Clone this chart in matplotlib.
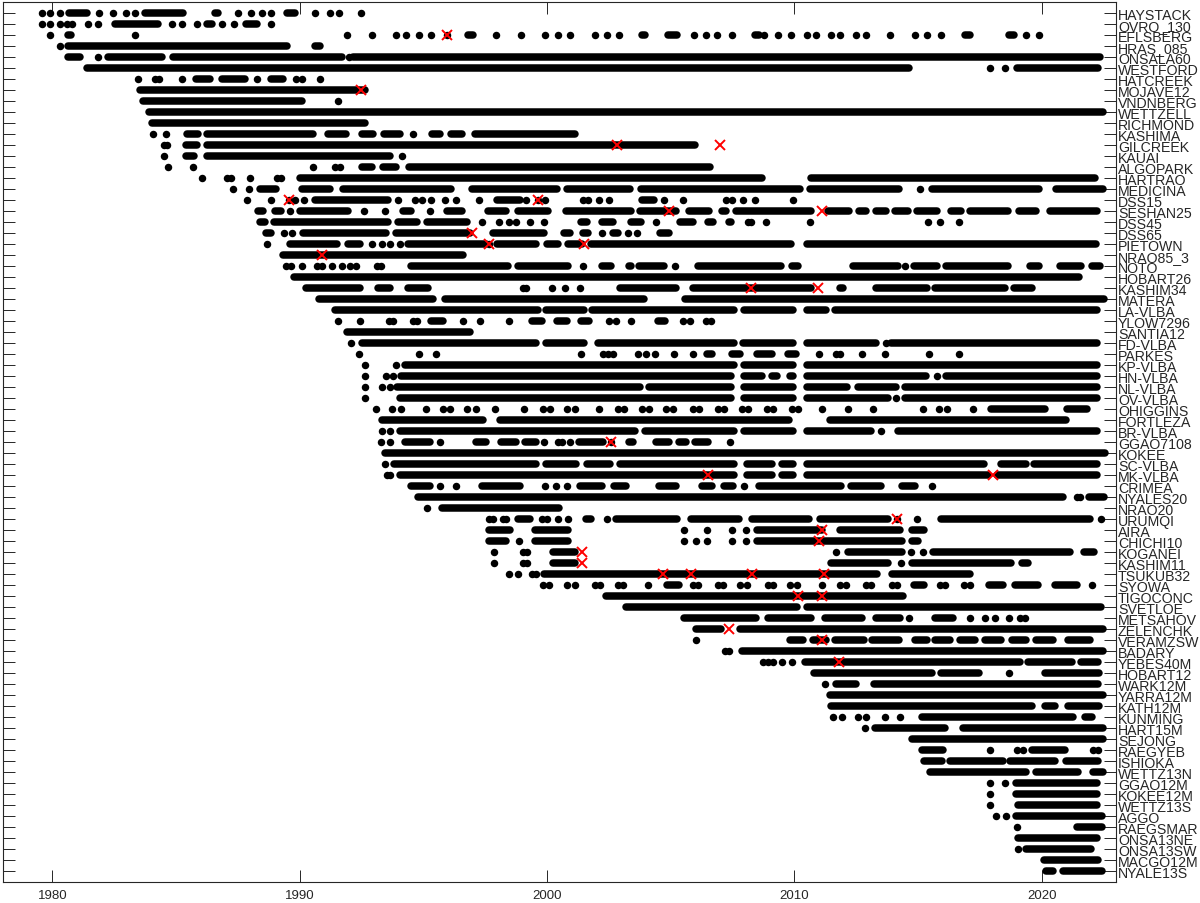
import matplotlib
matplotlib.use("Agg")
import matplotlib.pyplot as plt
from matplotlib.collections import LineCollection

# station names, top to bottom
stations = [
    "HAYSTACK", "OVRO_130", "EFLSBERG", "HRAS_085", "ONSALA60", "WESTFORD",
    "HATCREEK", "MOJAVE12", "VNDNBERG", "WETTZELL", "RICHMOND", "KASHIMA",
    "GILCREEK", "KAUAI", "ALGOPARK", "HARTRAO", "MEDICINA", "DSS15",
    "SESHAN25", "DSS45", "DSS65", "PIETOWN", "NRAO85_3", "NOTO", "HOBART26",
    "KASHIM34", "MATERA", "LA-VLBA", "YLOW7296", "SANTIA12", "FD-VLBA",
    "PARKES", "KP-VLBA", "HN-VLBA", "NL-VLBA", "OV-VLBA", "OHIGGINS",
    "FORTLEZA", "BR-VLBA", "GGAO7108", "KOKEE", "SC-VLBA", "MK-VLBA",
    "CRIMEA", "NYALES20", "NRAO20", "URUMQI", "AIRA", "CHICHI10", "KOGANEI",
    "KASHIM11", "TSUKUB32", "SYOWA", "TIGOCONC", "SVETLOE", "METSAHOV",
    "ZELENCHK", "VERAMZSW", "BADARY", "YEBES40M", "HOBART12", "WARK12M",
    "YARRA12M", "KATH12M", "KUNMING", "HART15M", "SEJONG", "RAEGYEB",
    "ISHIOKA", "WETTZ13N", "GGAO12M", "KOKEE12M", "WETTZ13S", "AGGO",
    "RAEGSMAR", "ONSA13NE", "ONSA13SW", "MACGO12M", "NYALE13S",
]

# sessions per station: a number is a single session, a tuple is a dense run
runs = [
    [1979.59, 1979.92, 1980.30, (1980.69, 1981.42), 1981.89, 1982.47, 1982.97, 1983.34,
     (1983.74, 1985.28), (1986.58, 1986.71), 1987.49, 1988.02, 1988.48, 1988.86,
     (1989.47, 1989.80), 1990.63, 1991.23, 1991.60, 1992.48],
    [1979.59, 1979.92, 1980.30, 1980.59, 1980.79, 1981.46, 1981.84, (1982.54, 1984.28),
     1984.82, 1985.24, 1985.84, (1986.25, 1986.45), 1986.85, 1987.36, (1987.83, 1988.26),
     1988.86],
    [1979.90, (1980.63, 1980.77), 1983.34, 1991.90, 1992.91, 1993.91, 1994.31, 1994.81,
     1995.30, 1995.94, (1996.82, 1996.99), 1997.93, 1998.96, 1999.94, 2000.43, 2000.94,
     2001.93, 2002.44, 2002.91, (2003.85, 2003.98), (2004.90, 2005.24), 2005.95, 2006.42,
     2006.88, 2007.49, (2008.43, 2008.59), 2008.79, 2009.33, 2009.86, 2010.51, 2010.89,
     2011.49, 2011.83, 2012.50, 2012.88, 2013.88, 2014.89, 2015.35, 2015.95,
     (2016.89, 2017.09), (2018.70, 2018.90), 2019.37, 2019.88],
    [1980.30, (1980.65, 1989.47), (1990.63, 1990.83)],
    [(1980.63, 1981.13), 1981.84, (1982.27, 1984.42), (1984.88, 1991.70), 1992.01,
     (1992.17, 2022.34)],
    [(1981.42, 2014.62), 2017.92, 2018.50, (2019.00, 2022.26)],
    [1983.45, 1984.15, 1984.32, 1985.24, (1985.82, 1986.38), (1986.85, 1987.79), 1988.26,
     (1988.86, 1989.33), 1989.87, 1990.09, 1990.83],
    [(1983.54, 1992.64)],
    [(1983.68, 1990.09), 1991.56],
    [(1983.92, 2022.48)],
    [(1984.04, 1992.64)],
    [1984.08, 1984.59, (1985.44, 1985.91), (1986.25, 1990.56), (1991.15, 1991.87),
     (1992.53, 1992.97), (1993.40, 1994.04), 1994.58, (1995.34, 1995.67),
     (1996.12, 1996.55), (1997.08, 2001.13)],
    [1984.51, 1984.64, (1985.41, 1985.84), (1986.25, 2005.98)],
    [1984.52, (1985.40, 1985.74), (1986.25, 1993.64), 1994.15],
    [1984.66, 1985.68, 1990.56, 1991.43, 1991.63, (1992.54, 1992.91), (1993.38, 1993.91),
     (1994.41, 2006.58)],
    [1986.05, 1987.05, 1987.21, 1987.99, 1989.10, 1989.26, (1990.02, 2008.68),
     (2010.69, 2022.14)],
    [1987.32, 1987.96, (1988.39, 1989.06), (1990.09, 1991.23), (1991.74, 1996.14),
     (1996.95, 2000.39), (2000.83, 2003.34), (2003.81, 2010.22), (2010.62, 2014.24),
     2015.08, (2015.55, 2019.88), (2020.60, 2022.48)],
    [1987.86, 1988.86, 1989.56, 1989.80, 1990.16, (1990.63, 1993.58), 1993.98, 1994.67,
     1994.94, 1995.30, 1995.88, 1996.32, 1997.26, (1997.96, 1998.89), 1999.16, 1999.63,
     1999.94, 2001.44, 2001.66, 2002.09, 2002.51, (2003.85, 2004.32), 2004.75, 2005.48,
     2007.25, 2007.49, 2007.92, 2008.43, 2009.93],
    [(1988.30, 1988.53), (1989.00, 1989.26), 1989.60, (1990.02, 1991.97), 1992.60, 1993.44,
     (1994.18, 1994.51), 1995.27, (1995.94, 1996.55), (1997.62, 1998.36), (1998.83, 2000.03),
     (2000.76, 2003.41), (2003.77, 2005.22), (2005.76, 2006.56), (2007.09, 2007.25),
     (2007.65, 2010.69), (2011.36, 2012.23), (2012.63, 2012.90), (2013.30, 2013.71),
     (2014.08, 2014.58), (2014.95, 2015.75), (2016.35, 2016.76), (2017.12, 2018.63),
     (2019.10, 2019.77), (2020.33, 2022.23)],
    [(1988.39, 1988.59), (1988.96, 1993.58), (1993.96, 1994.74), (1995.14, 1996.75),
     1997.38, 1998.06, 1998.46, 1998.73, 1999.30, 1999.86, (2001.37, 2001.60),
     (2002.24, 2002.67), (2003.41, 2003.81), 2004.39, (2005.37, 2005.91),
     (2006.51, 2006.71), (2007.38, 2007.45), 2008.12, 2008.26, 2008.86, 2010.62,
     2015.39, 2015.88, 2016.66],
    [(1988.66, 1988.86), 1989.36, 1989.71, (1990.13, 1993.51), (1993.91, 1996.88),
     (1997.82, 1999.90), (2000.70, 2000.93), (2001.46, 2001.66), 2002.24,
     (2002.67, 2002.87), 2003.27, 2003.64, (2004.59, 2004.95)],
    [1988.70, (1989.60, 1991.50), (1991.97, 1992.44), 1992.91, 1993.33, 1993.64, 1994.07,
     (1994.40, 1997.53), 1997.66, (1997.96, 1999.56), (1999.99, 2000.46),
     (2000.86, 2001.40), (2001.80, 2009.86), (2010.51, 2022.21)],
    [(1989.31, 1996.62)],
    [1989.44, 1989.67, 1990.09, 1990.72, 1990.89, 1991.30, 1991.70, 1992.03, 1992.28,
     1993.13, 1993.31, (1994.51, 1998.42), (1998.83, 2000.86), 2001.44, (2002.24, 2002.58),
     (2003.31, 2003.41), (2003.74, 2004.75), 2005.17, (2006.11, 2009.46),
     (2009.90, 2010.15), (2012.37, 2014.18), 2014.49, (2014.85, 2015.75),
     (2016.15, 2018.63), (2019.53, 2019.88), (2020.73, 2021.60), (2022.05, 2022.37)],
    [(1989.76, 2021.52)],
    [(1990.25, 1992.44), (1993.17, 1993.64), (1994.38, 1995.21), 1999.03, 1999.16,
     2000.19, 2000.72, 2001.33, (2002.94, 2005.22), (2005.91, 2010.69),
     (2011.83, 2011.96), (2013.30, 2015.35), (2015.68, 2018.50), (2018.90, 2019.61)],
    [(1990.80, 1995.40), (1995.87, 2003.94), (2005.57, 2022.54)],
    [(1991.43, 1999.63), (1999.97, 2001.51), (2001.82, 2007.56), (2007.95, 2009.93),
     (2010.51, 2011.27), (2011.65, 2022.22)],
    [1991.54, 1992.43, 1993.61, 1993.77, 1994.58, 1994.75, (1995.31, 1995.81), 1996.59,
     1997.31, 1998.46, (1999.40, 1999.80), (2000.39, 2000.82), (2001.39, 2001.70),
     2002.51, 2002.78, 2003.41, (2004.48, 2004.76), 2005.52, 2005.80, 2006.41, 2006.62],
    [(1991.92, 1996.88)],
    [1992.07, (1992.53, 1999.56), (1999.97, 2001.51), (2002.07, 2007.56),
     (2007.94, 2009.93), (2010.51, 2013.29), 2013.71, (2013.92, 2022.22)],
    [1992.39, 1994.81, 1995.50, 2001.39, 2002.27, 2002.47, 2002.67, 2003.67, 2004.00,
     2004.35, 2005.15, 2005.89, (2006.49, 2006.66), (2007.49, 2007.81), (2008.50, 2009.10),
     (2009.75, 2010.07), 2011.00, 2011.67, 2011.86, 2012.75, 2013.68, 2015.44, 2016.67],
    [1992.66, 1993.91, (1994.24, 2007.56), (2007.95, 2009.93), (2010.51, 2022.22)],
    [1992.66, 1993.51, 1993.77, (1994.11, 2007.43), (2007.95, 2008.68), (2009.10, 2009.31),
     (2009.82, 2009.93), (2010.51, 2015.34), 2015.76, (2016.15, 2022.22)],
    [1992.66, 1993.35, 1993.64, (1993.94, 2003.77), (2004.14, 2007.43), (2007.95, 2009.93),
     (2010.51, 2012.14), (2012.56, 2014.13), (2014.48, 2022.22)],
    [1992.66, (1994.07, 2007.43), (2007.95, 2009.93), (2010.51, 2013.78), 2014.13,
     (2014.48, 2022.22)],
    [1993.07, 1993.75, 1994.11, 1995.12, 1995.78, 1996.08, 1996.77, 1997.12, 1997.89,
     1999.09, 1999.83, 2000.12, 2000.79, 2001.13, 2002.11, 2002.87, 2003.10, 2003.85,
     2004.14, 2004.81, 2005.10, 2005.89, 2006.13, 2006.91, 2007.15, 2007.88, 2008.12,
     2008.89, 2009.14, 2009.89, 2010.13, 2011.14, 2012.18, 2013.18, 2015.21, 2015.87,
     2016.18, 2017.22, (2017.96, 2020.15), (2021.01, 2021.84)],
    [(1993.35, 1997.42), (1998.11, 2009.79), (2011.44, 2020.98)],
    [1993.35, 1993.64, (1994.04, 2003.54), (2003.98, 2007.56), (2007.95, 2009.93),
     (2010.51, 2013.09), 2013.50, (2014.20, 2022.22)],
    [1993.31, 1993.64, (1994.24, 1995.27), 1995.67, (1997.12, 1997.55), (1998.15, 1998.76),
     (1999.13, 1999.56), 1999.90, 2000.45, 2000.59, 2000.92, (2001.30, 2002.27), 2002.60,
     (2003.31, 2003.47), (2004.39, 2004.94), (2005.34, 2005.61), (2006.00, 2006.52),
     2007.40],
    [(1993.47, 2022.58)],
    [1993.47, (1993.80, 1999.56), (1999.97, 2001.19), (2001.60, 2002.56),
     (2002.96, 2007.56), (2008.09, 2009.10), (2009.51, 2009.93), (2010.51, 2017.68),
     (2018.34, 2019.36), (2019.69, 2022.22)],
    [1993.53, 1993.67, (1994.04, 2007.56), (2008.09, 2009.10), (2009.51, 2009.93),
     (2010.51, 2017.85), (2018.20, 2022.22)],
    [(1994.51, 1995.27), 1995.67, 1996.32, (1997.39, 1998.92), 1999.94, 2000.36, 2000.79,
     (2001.35, 2002.24), (2002.70, 2003.21), (2004.52, 2005.20), (2006.27, 2006.66),
     (2007.17, 2007.52), 2007.98, (2008.58, 2011.90), (2012.29, 2013.50),
     (2014.34, 2014.90), 2015.58],
    [(1994.80, 2020.87), 2021.42, 2021.56, (2021.91, 2022.54)],
    [1995.14, (1995.77, 2000.50)],
    [1997.66, 1997.82, 1998.22, 1998.36, (1998.83, 1999.30), 1999.80, 1999.99, 2000.43,
     2000.86, (2001.57, 2001.80), 2002.43, (2002.80, 2005.27), (2005.82, 2007.77),
     (2008.30, 2010.58), (2011.02, 2013.78), 2014.16, 2014.97, (2015.94, 2021.94), 2022.40],
    [(1997.66, 1998.49), (1999.50, 2000.86), 2005.54, 2006.49, 2007.49, 2008.05,
     (2008.50, 2011.14), (2011.83, 2014.27), (2014.76, 2015.24)],
    [(1997.66, 1998.36), 1998.87, (1999.50, 2000.86), 2005.54, 2006.03, 2006.49, 2007.49,
     2008.05, (2008.50, 2014.34), (2014.76, 2015.00)],
    [1997.85, 1999.05, 1999.19, (2000.23, 2001.13), 2011.69, (2012.18, 2014.34), 2014.73,
     2015.20, (2015.59, 2021.14), (2021.70, 2022.12)],
    [1997.85, 1999.05, 1999.19, (2000.23, 2001.13), (2011.48, 2013.78), 2014.31,
     (2014.76, 2018.76), (2019.22, 2019.45)],
    [1998.46, 1998.83, 1999.40, 1999.56, (1999.86, 2013.36), (2013.95, 2017.09)],
    [1999.83, 2000.09, 2000.79, 2001.13, 2001.93, 2002.13, 2002.87, 2003.07, 2004.10,
     (2004.86, 2005.33), 2005.89, 2006.10, 2006.91, 2007.10, 2007.80, 2008.08, 2008.92,
     2009.13, 2009.82, 2010.09, 2011.10, 2011.83, 2012.10, 2012.88, 2013.11, 2013.95,
     2014.14, (2014.85, 2015.25), 2015.89, 2016.09, 2016.85, 2017.10, (2017.87, 2018.44),
     (2018.91, 2019.85), (2020.54, 2021.41), 2022.05],
    [(2002.40, 2014.38)],
    [(2003.21, 2010.10), (2010.52, 2022.41)],
    [(2005.55, 2008.46), (2008.93, 2010.69), (2011.23, 2012.75), (2013.31, 2014.28),
     2014.65, (2015.69, 2016.43), 2017.10, 2017.70, 2018.10, 2018.68, 2019.14, 2019.31],
    [(2006.02, 2007.05), (2007.79, 2022.48)],
    [2006.02, (2009.83, 2010.36), (2010.76, 2011.30), (2011.63, 2012.80),
     (2013.15, 2014.25), (2014.89, 2015.35), (2015.69, 2016.29), (2016.69, 2017.30),
     (2017.70, 2018.37), (2018.81, 2019.38), (2019.78, 2020.47), (2021.07, 2021.94)],
    [2007.18, 2007.38, (2007.88, 2022.48)],
    [2008.73, 2008.93, 2009.13, 2009.51, 2009.91, (2010.43, 2019.11), (2019.44, 2021.21),
     (2021.61, 2022.28)],
    [(2010.79, 2015.55), (2015.92, 2017.47), 2018.68, (2020.13, 2022.32)],
    [2011.23, (2011.70, 2012.51), (2013.24, 2022.28)],
    [(2011.43, 2022.48)],
    [(2011.47, 2019.62), (2020.13, 2020.54), (2021.07, 2022.32)],
    [2011.57, 2011.94, 2012.57, 2012.88, 2013.65, 2014.28, (2015.15, 2021.27),
     (2021.74, 2022.05)],
    [2012.84, (2013.28, 2016.09), (2016.83, 2022.48)],
    [(2014.76, 2022.48)],
    [(2015.15, 2016.02), 2017.93, 2019.00, 2019.24, (2019.62, 2020.94), 2022.08, 2022.28],
    [(2015.24, 2015.96), (2016.29, 2018.44), (2018.71, 2020.54), (2020.98, 2022.28)],
    [(2015.49, 2019.35), (2019.78, 2021.47), (2022.08, 2022.48)],
    [2017.93, 2018.50, (2018.97, 2022.24)],
    [2017.93, (2018.97, 2022.24)],
    [2017.93, (2019.04, 2022.24)],
    [2018.14, 2018.54, (2018.95, 2022.45)],
    [2019.00, (2021.41, 2022.45)],
    [(2019.04, 2022.24)],
    [2019.04, (2019.35, 2022.01)],
    [(2020.09, 2022.28)],
    [(2020.17, 2020.47), (2020.87, 2022.45)],
]

# red crosses
break_station = [
    "EFLSBERG", "MOJAVE12", "GILCREEK", "GILCREEK", "DSS15", "DSS15", "SESHAN25",
    "SESHAN25", "DSS65", "PIETOWN", "PIETOWN", "NRAO85_3", "KASHIM34", "KASHIM34",
    "GGAO7108", "MK-VLBA", "MK-VLBA", "URUMQI", "AIRA", "CHICHI10", "KOGANEI",
    "KASHIM11", "TSUKUB32", "TSUKUB32", "TSUKUB32", "TSUKUB32", "TIGOCONC", "TIGOCONC",
    "ZELENCHK", "VERAMZSW", "YEBES40M",
]
break_year = [
    1995.94, 1992.48, 2002.83, 2006.98, 1989.56, 1999.63, 2004.92,
    2011.13, 1996.95, 1997.66, 2001.50, 1990.89, 2008.26, 2010.96,
    2002.60, 2006.52, 2018.02, 2014.16, 2011.14, 2011.00, 2001.43,
    2001.43, 2004.69, 2005.82, 2008.30, 2011.21, 2010.15, 2011.10,
    2007.34, 2011.10, 2011.81,
]

plt.rcParams['font.family'] = ['Liberation Sans', 'DejaVu Sans']

fig = plt.figure(figsize=(12, 9.04), dpi=100)
ax = fig.add_axes([0.00236, 0.0229, 0.9275, 0.9735])

segs, dot_x, dot_y = [], [], []
for i, items in enumerate(runs):
    y = i + 1
    for it in items:
        if isinstance(it, tuple):
            segs.append([(it[0], y), (it[1], y)])
        else:
            dot_x.append(it)
            dot_y.append(y)

ax.add_collection(LineCollection(segs, colors='k', linewidths=5.4, capstyle='round'))
ax.scatter(dot_x, dot_y, s=29, c='k', linewidths=0, zorder=2)

bx = break_year
by = [stations.index(s) + 1 for s in break_station]
ax.plot(bx, by, 'x', color='red', markersize=7.5, markeredgewidth=1.4, zorder=3)

ax.set_xlim(1978, 2023)
ax.set_ylim(80, 0)
ax.set_xticks([1980, 1990, 2000, 2010, 2020])
ax.set_yticks(range(1, len(stations) + 1))
ax.set_yticklabels(stations)

ax.tick_params(axis='x', direction='in', length=8.3, width=0.7, top=True, bottom=True,
               labelsize=9.5, pad=5, colors='#262626')
ax.tick_params(axis='y', direction='in', length=8.3, width=0.7, left=True, right=True,
               labelleft=False, labelright=True, labelsize=10.2, pad=1.5, colors='#262626')
for sp in ax.spines.values():
    sp.set_color('#262626')
    sp.set_linewidth(0.8)

fig.savefig('out.png', dpi=100)
